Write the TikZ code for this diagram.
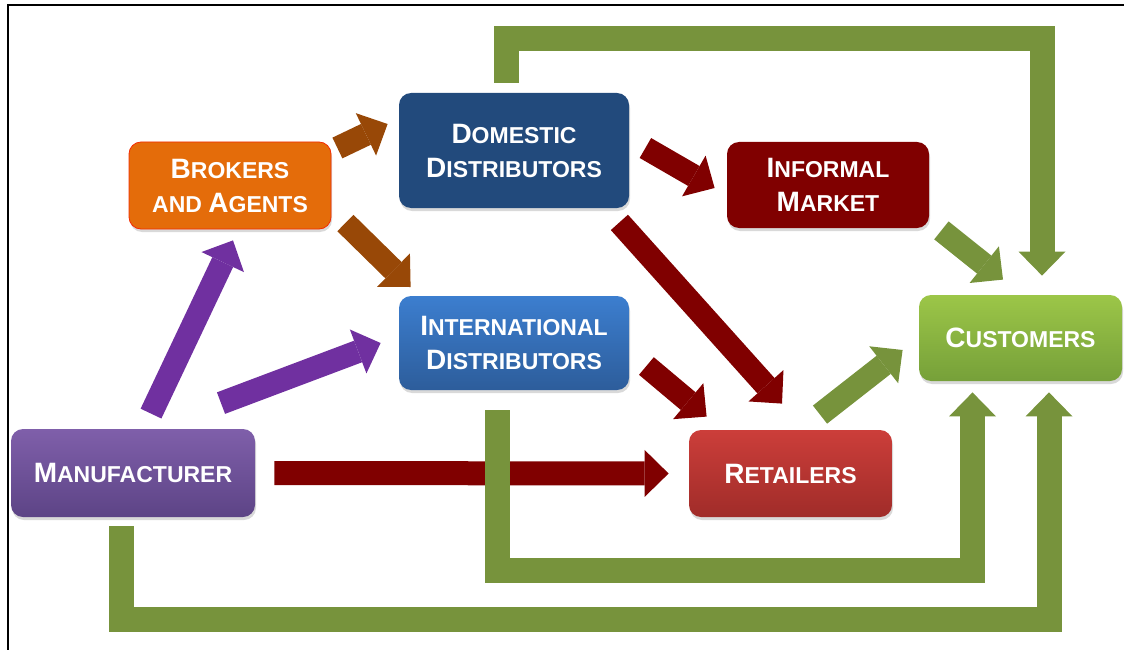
\documentclass[tikz,border=0pt]{standalone}
\usepackage{fontspec}
\setmainfont{Liberation Sans}
\usetikzlibrary{calc,shadows,arrows.meta}

\definecolor{mantop}{HTML}{7F5FAA}
\definecolor{manbot}{HTML}{5D4486}
\definecolor{brkfill}{HTML}{E46C0A}
\definecolor{domfill}{HTML}{224A7C}
\definecolor{inttop}{HTML}{3C7ECF}
\definecolor{intbot}{HTML}{2D5D9B}
\definecolor{inffill}{HTML}{800000}
\definecolor{rettop}{HTML}{CC3E3A}
\definecolor{retbot}{HTML}{A02C29}
\definecolor{custop}{HTML}{9CC648}
\definecolor{cusbot}{HTML}{76A039}
\definecolor{arrpurple}{HTML}{7030A0}
\definecolor{arrbrown}{HTML}{984807}
\definecolor{arrred}{HTML}{800000}
\definecolor{arrgreen}{HTML}{77933C}

\newcommand\capl[1]{{\fontsize{28}{34}\selectfont #1}}

\begin{document}
\begin{tikzpicture}[x=1pt, y=-1pt, thick,
    box/.style = {rounded corners=12pt, text=white, align=center, inner sep=0pt,
        font=\bfseries\fontsize{23}{34}\selectfont,
        drop shadow={opacity=0.3, shadow xshift=1pt, shadow yshift=-3pt}},
    blk/.style = {line width=23pt, -{Triangle[length=24pt, width=47pt, line width=0pt]}},
    grn/.style = {draw=arrgreen, line width=25pt, line join=miter,
        -{Triangle[length=24pt, width=47pt, line width=0pt]}}]
    \useasboundingbox (0,0) rectangle (1124,650);
    \draw[line width=1.5pt] (8,650) -- (8,5) -- (1124,5);

    \node[box, top color=mantop, bottom color=manbot, minimum width=244, minimum height=88] (man) at (133,473) {\capl{M}ANUFACTURER};
    \node[box, fill=brkfill, draw=red!60!brkfill, minimum width=202, minimum height=87] (brk) at (230,185.5) {\capl{B}ROKERS\\AND \capl{A}GENTS};
    \node[box, fill=domfill, minimum width=230, minimum height=115] (dom) at (514,150.5) {\capl{D}OMESTIC\\\capl{D}ISTRIBUTORS};
    \node[box, top color=inttop, bottom color=intbot, minimum width=230, minimum height=94] (int) [below of=dom, node distance=192.5pt] {\capl{I}NTERNATIONAL\\\capl{D}ISTRIBUTORS};
    \node[box, fill=inffill, minimum width=202, minimum height=86] (inf) at (828,185) {\capl{I}NFORMAL\\\capl{M}ARKET};
    \node[box, top color=rettop, bottom color=retbot, minimum width=203, minimum height=87] (ret) at (790.5,473.5) {\capl{R}ETAILERS};
    \node[box, top color=custop, bottom color=cusbot, minimum width=203, minimum height=86] (cus) at (1020.5,338) {\capl{C}USTOMERS};

    % from the manufacturer
    \draw[blk, arrpurple] ($(man.north)+(18,-15)$) -- ($(brk.south)+(3,11)$);
    \draw[blk, arrpurple] ($(man.north)+(88,-25.5)$) -- ($(int.west)+(-18,0)$);
    \draw[blk, arrred, line width=24pt] ($(man.east)+(19,0)$) -- ($(ret.west)+(-20,0)$);
    % from brokers and agents
    \draw[blk, arrbrown] ($(brk.east)+(6,-37.5)$) -- ($(dom.west)+(-11,-26.5)$);
    \draw[blk, arrbrown] ($(brk.east)+(14,37.5)$) -- ($(int.west)+(12,-56)$);
    % from the distributors
    \draw[blk, arrred] ($(dom.east)+(16,-2.5)$) -- ($(inf.west)+(-12,3)$);
    \draw[blk, arrred] ($(dom.south east)+(-10,14)$) -- ($(ret.north)+(-8.5,-26)$);
    \draw[blk, arrred] ($(int.east)+(17,23)$) -- ($(ret.north west)+(18,-13)$);
    % to the customers
    \draw[blk, arrgreen] ($(ret.north)+(29.5,-15)$) -- ($(cus.west)+(-16,12)$);
    \draw[blk, arrgreen] ($(inf.south east)+(12,2)$) -- ($(cus.north)+(-17.5,-15)$);
    \draw[grn] ($(dom.north)+(-7.5,-10)$) -- ++(0,-44) -| ($(cus.north)+(21.5,-19)$);
    \draw[grn] ($(int.south)+(-16.5,20)$) -- ++(0,160.5) -| ($(cus.south)+(-48,11)$);
    \draw[grn] ($(man.south)+(-12,9)$) -- ++(0,93) -| ($(cus.south)+(28.5,11)$);
\end{tikzpicture}
\end{document}
